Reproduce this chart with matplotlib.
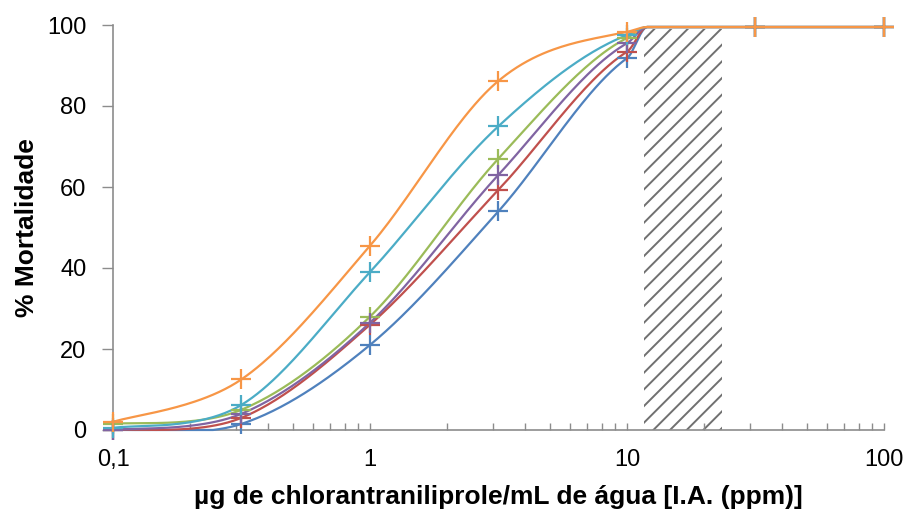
import numpy as np
import matplotlib
matplotlib.use("Agg")
import matplotlib.pyplot as plt
from matplotlib.ticker import FixedLocator, LogLocator, NullFormatter

# ---- data ----
doses = [0.1, 0.316, 1, 3.16, 10, 31.6, 100]
mort_blue   = [0.0, 1.5, 21.0, 54.0, 91.8, 99.5, 99.5]
mort_red    = [0.0, 3.0, 26.0, 59.3, 93.4, 99.5, 99.5]
mort_green  = [1.5, 5.0, 28.0, 67.0, 96.8, 99.5, 99.5]
mort_purple = [0.0, 4.0, 26.5, 63.0, 95.5, 99.5, 99.5]
mort_aqua   = [0.5, 6.2, 39.0, 75.0, 97.5, 99.5, 99.5]
mort_orange = [2.0, 12.5, 45.5, 86.2, 98.3, 99.5, 99.5]
# where the smoothed curves reach the plateau
plateau_dose = 12.0
plateau_value = 99.5
colors = ["#4F81BD", "#C0504D", "#9BBB59", "#8064A2", "#4BACC6", "#F79646"]
hatch_x = [11.6, 23.4]
hatch_top = 99.0
xticks = [0.1, 1, 10, 100]
xticklabels = ["0,1", "1", "10", "100"]
yticks = [0, 20, 40, 60, 80, 100]
xlabel = "µg de chlorantraniliprole/mL de água [I.A. (ppm)]"
ylabel = "% Mortalidade"

all_series = [mort_blue, mort_red, mort_green, mort_purple, mort_aqua, mort_orange]


def bez(p0, c1, c2, p1, n=50, skip_first=True):
    t = np.linspace(0, 1, n)[:, None]
    seg = (1 - t) ** 3 * p0 + 3 * (1 - t) ** 2 * t * c1 + 3 * (1 - t) * t ** 2 * c2 + t ** 3 * p1
    return seg[1:] if skip_first else seg


def smooth_curve(lx, y, lplat, yplat):
    """Excel-like Catmull-Rom smoothing up to the last dose below the plateau,
    a Hermite join into the plateau, then flat."""
    P = np.column_stack([lx, y]).astype(float)
    Pe = np.vstack([P[0], P, P[-1]])
    k = int(np.sum(lx < lplat))  # number of points before plateau
    pieces = [P[:1]]
    for i in range(k - 1):
        p0, p1, p2, p3 = Pe[i], Pe[i + 1], Pe[i + 2], Pe[i + 3]
        c1 = p1 + (p2 - p0) / 6.0
        c2 = p2 - (p3 - p1) / 6.0
        pieces.append(bez(p1, c1, c2, p2))
    # join into the plateau
    pl = P[k - 1]
    tang = Pe[k + 1] - Pe[k - 1]
    slope = tang[1] / tang[0]
    h = lplat - pl[0]
    c1 = pl + np.array([h / 3, slope * h / 3])
    pp = np.array([lplat, yplat])
    c2 = pp - np.array([h / 3, 0.0])
    pieces.append(bez(pl, c1, c2, pp))
    pieces.append(np.column_stack([lx[k:], np.full(len(lx) - k, yplat)]))
    seg = np.vstack(pieces)
    return seg[:, 0], np.clip(seg[:, 1], 0, yplat)


plt.rcParams["font.family"] = ["Liberation Sans", "DejaVu Sans"]
plt.rcParams["hatch.linewidth"] = 1.4
plt.rcParams["hatch.color"] = "#707070"

fig = plt.figure(figsize=(9.08, 5.12), dpi=100)
ax = fig.add_axes([113 / 908, 82 / 512, (884 - 113) / 908, (430 - 25) / 512])
ax.set_xscale("log")
ax.set_xlim(0.1, 100)
ax.set_ylim(0, 100)

ax.fill_between(hatch_x, [0, 0], [hatch_top, hatch_top], facecolor="white",
                edgecolor="#707070", hatch="//", linewidth=0, zorder=1)

for vals, c in zip(all_series, colors):
    sx, sy = smooth_curve(np.log10(doses), np.array(vals), np.log10(plateau_dose), plateau_value)
    ax.plot(10 ** sx, sy, color=c, lw=1.6, zorder=3, clip_on=False)
    ax.plot(doses, vals, linestyle="none", marker="+", markersize=14, mew=1.6,
            color=c, zorder=4, clip_on=False)

for s in ["top", "right"]:
    ax.spines[s].set_visible(False)
for s in ["left", "bottom"]:
    ax.spines[s].set_color("#8c8c8c")
    ax.spines[s].set_linewidth(1.2)

ax.xaxis.set_major_locator(FixedLocator(xticks))
ax.set_xticklabels(xticklabels)
ax.xaxis.set_minor_locator(LogLocator(base=10, subs=np.arange(2, 10)))
ax.xaxis.set_minor_formatter(NullFormatter())
ax.tick_params(axis="x", which="both", direction="in", color="#8c8c8c", width=1.0)
ax.tick_params(axis="x", which="major", length=5, labelsize=17, pad=14)
ax.tick_params(axis="x", which="minor", length=5)
ax.set_yticks(yticks)
ax.tick_params(axis="y", direction="out", length=8, width=1.0, color="#8c8c8c",
               labelsize=17, pad=11)

ax.set_xlabel(xlabel, fontsize=19, fontweight="bold", labelpad=10)
ax.set_ylabel(ylabel, fontsize=19, fontweight="bold", labelpad=6)

fig.savefig("out.png", dpi=100)
